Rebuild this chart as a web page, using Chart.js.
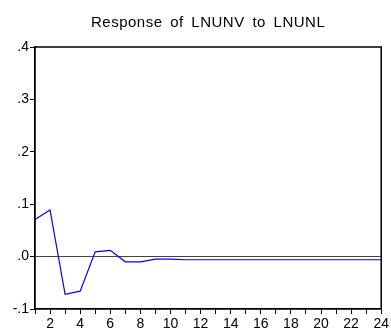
<!DOCTYPE html>
<html>
<head>
<meta charset="utf-8">
<script src="https://cdn.jsdelivr.net/npm/chart.js@4/dist/chart.umd.min.js"></script>
<style>
  html, body { margin: 0; padding: 0; background: #fff; }
  #wrap { width: 391px; height: 330px; }
</style>
</head>
<body>
<div id="wrap"><canvas id="myChart" width="391" height="330"></canvas></div>
<script>
// impulse response, periods 1..24
const periods = [1, 2, 3, 4, 5, 6, 7, 8, 9, 10, 11, 12, 13, 14, 15, 16, 17, 18, 19, 20, 21, 22, 23, 24];
const response = [0.071, 0.089, -0.072, -0.066, 0.009, 0.012, -0.010, -0.010, -0.005, -0.005, -0.006, -0.006,
                  -0.006, -0.006, -0.006, -0.006, -0.006, -0.006, -0.006, -0.006, -0.006, -0.006, -0.006, -0.006];
const yTicks = [-0.1, 0.0, 0.1, 0.2, 0.3, 0.4];
const yTickLabels = ['-.1', '.0', '.1', '.2', '.3', '.4'];
const chartTitle = 'Response of LNUNV to LNUNL';

const font = "'Liberation Sans', Arial, sans-serif";

// title (wide EViews spacing) + top/right border of the plot box
const frame = {
    id: 'frame',
    afterDraw(chart) {
        const a = chart.chartArea;
        const c = chart.ctx;
        c.save();
        c.strokeStyle = '#000';
        c.lineWidth = 1.5;
        c.beginPath();
        c.moveTo(a.left, a.top);
        c.lineTo(a.right, a.top);
        c.lineTo(a.right, a.bottom);
        c.stroke();

        c.fillStyle = '#000';
        c.font = '15px ' + font;
        c.letterSpacing = '0.5px';
        c.wordSpacing = '3px';
        c.textAlign = 'center';
        c.textBaseline = 'middle';
        c.fillText(chartTitle, (a.left + a.right) / 2, 23);
        c.restore();
    }
};

const ctx = document.getElementById('myChart');

new Chart(ctx, {
    type: 'line',
    data: {
        datasets: [{
            data: periods.map((p, i) => ({ x: p, y: response[i] })),
            borderColor: '#0000ff',
            borderWidth: 1.2,
            pointRadius: 0,
            tension: 0
        }]
    },
    options: {
        responsive: false,
        animation: false,
        layout: { padding: { left: 0, right: 7, top: 47, bottom: 0 } },
        plugins: {
            legend: { display: false },
            tooltip: { enabled: false },
            title: { display: false }
        },
        scales: {
            x: {
                type: 'linear',
                min: 1,
                max: 24,
                afterFit: s => { s.height = 21; },
                afterBuildTicks: s => { s.ticks = periods.map(v => ({ value: v })); },
                ticks: {
                    autoSkip: false,
                    maxRotation: 0,
                    padding: 2,
                    color: '#000',
                    font: { family: font, size: 14 },
                    callback: v => (v % 2 === 0 ? String(v) : '')
                },
                grid: { drawOnChartArea: false, tickLength: 5, tickColor: '#000', tickWidth: 1 },
                border: { color: '#000', width: 1.8 }
            },
            y: {
                min: -0.1,
                max: 0.4,
                afterFit: s => { s.width = 35; },
                afterBuildTicks: s => { s.ticks = yTicks.map(v => ({ value: v })); },
                ticks: {
                    padding: 1,
                    color: '#000',
                    font: { family: font, size: 14 },
                    callback: (v, i) => yTickLabels[i]
                },
                grid: {
                    drawOnChartArea: true,
                    color: c => (c.tick && Math.abs(c.tick.value) < 1e-9 ? '#444' : 'rgba(0,0,0,0)'),
                    lineWidth: 1,
                    tickLength: 5,
                    tickColor: '#000'
                },
                border: { color: '#000', width: 1.8 }
            }
        }
    },
    plugins: [frame]
});
</script>
</body>
</html>
